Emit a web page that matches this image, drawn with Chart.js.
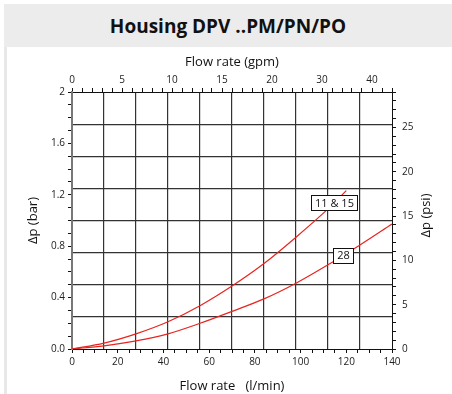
<!DOCTYPE html>
<html><head><meta charset="utf-8">
<script src="https://cdn.jsdelivr.net/npm/chart.js@4/dist/chart.umd.min.js"></script>
<style>
html,body{margin:0;padding:0;width:452px;height:394px;overflow:hidden;background:#fff;}
#hdr{position:absolute;left:4px;top:4px;width:448px;height:43px;background:#ececec;font:bold 19px 'Open Sans',sans-serif;text-align:center;line-height:44px;color:#111;}
#lb{position:absolute;left:4px;top:47px;width:3px;height:347px;background:#e8e8e8;}
#c{position:absolute;left:0;top:0;}
</style></head>
<body>
<div id="hdr">Housing DPV ..PM/PN/PO</div>
<div id="lb"></div>
<canvas id="c" width="452" height="394"></canvas>
<script>
// ---- data ----
const flow1115 = [0, 14, 28, 42, 56, 70, 84, 98, 112, 120];
const dp1115   = [0, 0.046, 0.118, 0.212, 0.337, 0.49, 0.665, 0.87, 1.09, 1.232];
const flow28   = [0, 14, 28, 42, 56, 70, 84, 98, 112, 126, 140];
const dp28     = [0, 0.025, 0.063, 0.118, 0.2, 0.293, 0.39, 0.512, 0.655, 0.81, 0.973];
const seriesNames = ['11 & 15', '28'];
const gpmTickLabels = ['0', '5', '10', '15', '20', '30', '40'];
const barTickLabels = {0: '0.0', 4: '0.4', 8: '0.8', 12: '1.2', 16: '1.6', 20: '2'};
const flowLabelEvery = 20;
const psiLabelEvery = 5;
const BAR_TO_PSI = 14.5038;

const FONT = "'Open Sans', sans-serif";
const toXY = (xs, ys) => xs.map((x, i) => ({x, y: ys[i]}));

const labelBoxes = {
  id: 'labelBoxes',
  afterDatasetsDraw(chart, args, opts) {
    const ctx = chart.ctx, xs = chart.scales.x, ys = chart.scales.y;
    ctx.save();
    ctx.font = '11px ' + FONT;
    ctx.textAlign = 'center';
    ctx.textBaseline = 'middle';
    opts.items.forEach(it => {
      const ds = chart.data.datasets[it.dataset].data;
      let yv = 0;
      for (let i = 1; i < ds.length; i++) {
        if (it.atFlow <= ds[i].x) {
          const t = (it.atFlow - ds[i-1].x) / (ds[i].x - ds[i-1].x);
          yv = ds[i-1].y + t * (ds[i].y - ds[i-1].y);
          break;
        }
      }
      const px = xs.getPixelForValue(it.atFlow), py = ys.getPixelForValue(yv);
      const w = ctx.measureText(it.text).width + 7, h = 15;
      ctx.fillStyle = '#fff';
      ctx.fillRect(Math.round(px - w/2) + 0.5, Math.round(py - h/2) + 0.5, Math.round(w), h);
      ctx.strokeStyle = '#111';
      ctx.lineWidth = 1;
      ctx.strokeRect(Math.round(px - w/2) + 0.5, Math.round(py - h/2) + 0.5, Math.round(w), h);
      ctx.fillStyle = '#111';
      ctx.fillText(it.text, Math.round(px) + 0.5, Math.round(py) + 1);
    });
    ctx.restore();
  }
};

const rightTitle = {
  id: 'rightTitle',
  afterDraw(chart) {
    const ctx = chart.ctx;
    const a = chart.chartArea;
    ctx.save();
    ctx.font = '13px ' + FONT;
    ctx.fillStyle = '#111';
    ctx.textAlign = 'center';
    ctx.textBaseline = 'middle';
    ctx.translate(426, (a.top + a.bottom) / 2 - 5);
    ctx.rotate(-Math.PI / 2);
    ctx.fillText('\u0394p (psi)', 0, 0);
    ctx.restore();
  }
};

const isNear = (v, step) => Math.abs(v / step - Math.round(v / step)) < 1e-6;

new Chart(document.getElementById('c'), {
  type: 'line',
  data: {
    datasets: [
      {label: seriesNames[0], data: toXY(flow1115, dp1115), borderColor: '#e8241f', borderWidth: 1.2, pointRadius: 0, cubicInterpolationMode: 'monotone', xAxisID: 'x', yAxisID: 'y'},
      {label: seriesNames[1], data: toXY(flow28, dp28), borderColor: '#e8241f', borderWidth: 1.2, pointRadius: 0, cubicInterpolationMode: 'monotone', xAxisID: 'x', yAxisID: 'y'}
    ]
  },
  options: {
    responsive: false,
    animation: false,
    devicePixelRatio: 1,
    layout: {padding: 0},
    plugins: {
      legend: {display: false},
      tooltip: {enabled: false},
      labelBoxes: {items: [{dataset: 0, text: seriesNames[0], atFlow: 114.8}, {dataset: 1, text: seriesNames[1], atFlow: 118.6}]}
    },
    scales: {
      x: {
        type: 'linear', position: 'bottom', min: 0, max: 140,
        ticks: {stepSize: 5, autoSkip: false, maxRotation: 0, padding: 3, color: '#222', font: {family: FONT, size: 10},
          callback: v => isNear(v, flowLabelEvery) ? String(Math.round(v)) : ''},
        grid: {drawOnChartArea: false, drawTicks: true, tickLength: 4, color: '#111'},
        border: {display: true, color: '#111', width: 1},
        title: {display: true, text: 'Flow rate   (l/min)', color: '#111', font: {family: FONT, size: 13}, padding: {top: 8, bottom: 0}},
        afterFit: s => { s.height = 45; }
      },
      xg: {
        type: 'linear', position: 'bottom', min: 0, max: 140,
        ticks: {display: false, stepSize: 14},
        grid: {drawOnChartArea: true, drawTicks: false, lineWidth: 1.2, color: c => (c.tick && (c.tick.value === 0 || c.tick.value === 140)) ? 'rgba(0,0,0,0)' : '#333'},
        border: {display: false},
        afterFit: s => { s.height = 0; }
      },
      x2: {
        type: 'linear', position: 'top', min: 0, max: 6.4,
        ticks: {stepSize: 0.2, autoSkip: false, maxRotation: 0, padding: 2, color: '#222', font: {family: FONT, size: 10},
          callback: v => isNear(v, 1) ? (gpmTickLabels[Math.round(v)] || '') : ''},
        grid: {drawOnChartArea: false, drawTicks: true, tickLength: 4, color: '#111'},
        border: {display: true, color: '#111', width: 1},
        title: {display: true, text: 'Flow rate (gpm)', color: '#111', font: {family: FONT, size: 13}, padding: {top: 54, bottom: 0}},
        afterFit: s => { s.height = 92; }
      },
      y: {
        type: 'linear', position: 'left', min: 0, max: 2,
        ticks: {stepSize: 0.1, autoSkip: false, padding: 3, color: '#222', font: {family: FONT, size: 10},
          callback: v => { const k = Math.round(v * 10); return (isNear(v, 0.1) && barTickLabels[k] !== undefined) ? barTickLabels[k] : ''; }},
        grid: {drawOnChartArea: false, drawTicks: true, tickLength: 4, color: '#111'},
        border: {display: true, color: '#777', width: 2},
        title: {display: true, text: '\u0394p (bar)', color: '#111', font: {family: FONT, size: 13}, padding: {top: 25, bottom: 0}},
        afterFit: s => { s.width = 72; }
      },
      yg: {
        type: 'linear', position: 'left', min: 0, max: 2,
        ticks: {display: false, stepSize: 0.25},
        grid: {drawOnChartArea: true, drawTicks: false, lineWidth: 1.2, color: c => (c.tick && (c.tick.value === 0 || c.tick.value === 2)) ? 'rgba(0,0,0,0)' : '#333'},
        border: {display: false},
        afterFit: s => { s.width = 0; }
      },
      y2: {
        type: 'linear', position: 'right', min: 0, max: 2 * BAR_TO_PSI,
        ticks: {stepSize: 1, autoSkip: false, padding: 6, color: '#222', font: {family: FONT, size: 10},
          callback: v => isNear(v, psiLabelEvery) ? String(Math.round(v)) : ''},
        grid: {drawOnChartArea: false, drawTicks: true, tickLength: 4, color: '#111'},
        border: {display: true, color: '#111', width: 1},
        afterFit: s => { s.width = 60; }
      }
    }
  },
  plugins: [labelBoxes, rightTitle]
});
</script>
</body></html>
